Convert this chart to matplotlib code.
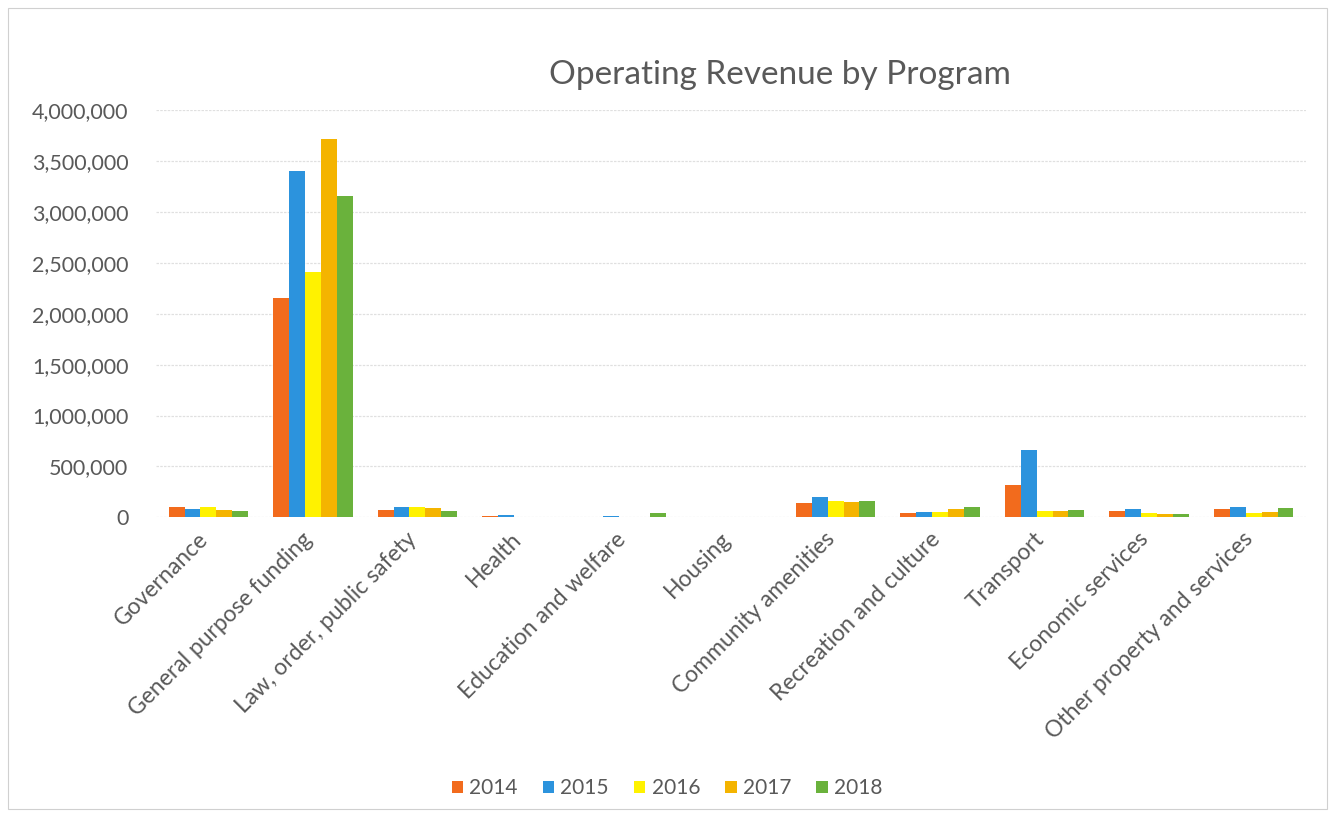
import numpy as np
import matplotlib
matplotlib.use("Agg")
import matplotlib.pyplot as plt
import matplotlib.transforms as mtransforms
from matplotlib.ticker import FuncFormatter
from matplotlib.patches import Rectangle

categories = ["Governance", "General purpose funding", "Law, order, public safety",
              "Health", "Education and welfare", "Housing", "Community amenities",
              "Recreation and culture", "Transport", "Economic services",
              "Other property and services"]
years = ["2014", "2015", "2016", "2017", "2018"]

rev_2014 = [105000, 2150000, 75000, 10000, 5000, 0, 140000, 40000, 320000, 65000, 85000]
rev_2015 = [85000, 3400000, 100000, 25000, 10000, 0, 200000, 52000, 660000, 80000, 105000]
rev_2016 = [105000, 2410000, 98000, 5000, 8000, 0, 165000, 50000, 65000, 40000, 38000]
rev_2017 = [70000, 3720000, 88000, 5000, 3000, 0, 150000, 85000, 62000, 30000, 50000]
rev_2018 = [58000, 3155000, 65000, 5000, 38000, 0, 162000, 105000, 70000, 28000, 95000]

colors = ["#F26B1D", "#2C93DD", "#FFF200", "#F4B400", "#6AB23C"]

plt.rcParams['font.family'] = ['Lato', 'DejaVu Sans']
grey = "#595959"

fig = plt.figure(figsize=(13.34, 8.16), dpi=100)
ax = fig.add_axes([0.117, 0.366, 0.862, 0.499])

series = [rev_2014, rev_2015, rev_2016, rev_2017, rev_2018]
x = np.arange(len(categories))
bw = 0.152
for i, (vals, c, yr) in enumerate(zip(series, colors, years)):
    ax.bar(x + (i - 2) * bw, vals, bw, color=c, label=yr, zorder=3)

ax.set_xlim(-0.5, len(categories) - 0.5)
ax.set_ylim(0, 4000000)
ax.set_yticks(np.arange(0, 4000001, 500000))
ax.yaxis.set_major_formatter(FuncFormatter(lambda v, p: f"{int(v):,}"))
ax.grid(axis='y', color="#e0e0e0", linewidth=0.9, linestyle=(0, (2, 1)), zorder=0)
ax.set_xticks(x)
ax.set_xticklabels(categories, rotation=45, ha='right', rotation_mode='anchor')
for s in ax.spines.values():
    s.set_visible(False)
ax.tick_params(axis='both', length=0, labelsize=15.5, colors=grey)
ax.tick_params(axis='x', labelsize=16.5, pad=8)
ax.tick_params(axis='y', pad=20)

# nudge the rotated category labels a little to the left
shift = mtransforms.ScaledTranslation(-8 / 72, 0, fig.dpi_scale_trans)
for lab in ax.get_xticklabels():
    lab.set_transform(lab.get_transform() + shift)

fig.text(0.585, 0.908, "Operating Revenue by Program", ha='center', va='center',
         fontsize=24, color=grey)

fig.legend(loc='center', bbox_to_anchor=(0.5, 0.034), ncol=5, frameon=False,
           fontsize=15, handlelength=0.55, handleheight=0.55, handletextpad=0.3,
           columnspacing=1.2, labelcolor=grey)

fig.patches.append(Rectangle((0.006, 0.008), 0.989, 0.982, transform=fig.transFigure,
                             fill=False, edgecolor="#d0d0d0", linewidth=0.8))

fig.savefig("out.png", dpi=100, facecolor="white")
